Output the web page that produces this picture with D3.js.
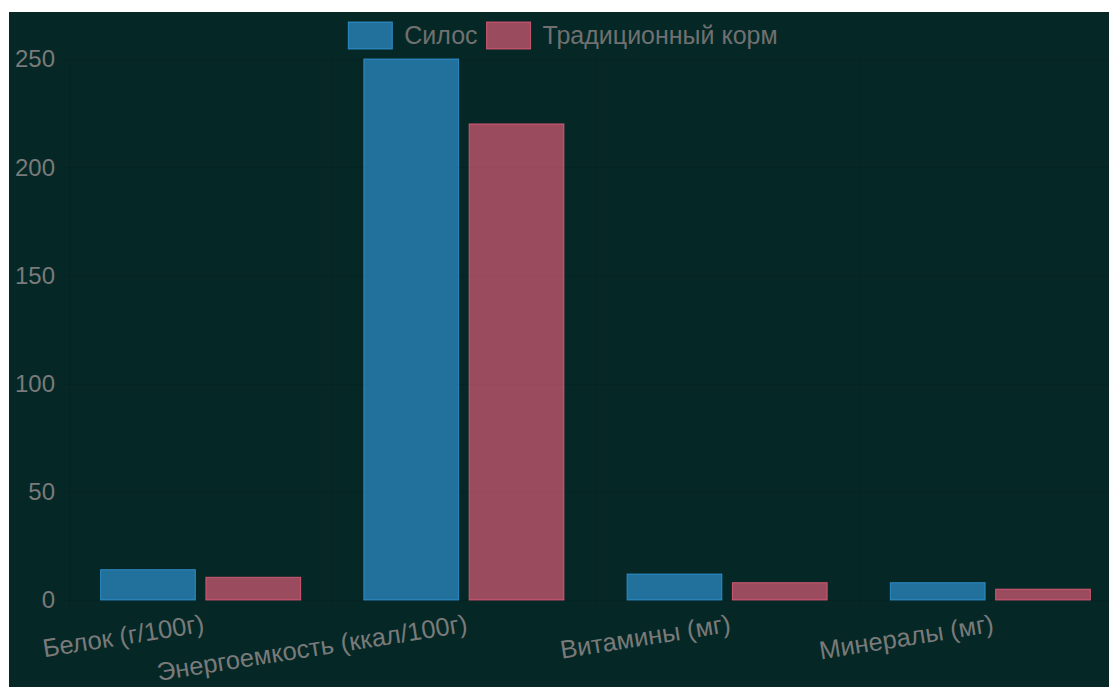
<!DOCTYPE html>
<html lang="ru">
<head>
  <meta charset="utf-8">
  <title>Силос и традиционный корм</title>
  <script src="https://d3js.org/d3.v7.min.js"></script>
  <style>
    html, body { margin: 0; padding: 0; background: #ffffff; }
    #chart text { font-family: "Liberation Sans", Arial, Helvetica, sans-serif; }
  </style>
</head>
<body>
  <div id="chart"></div>

  <script>
    "use strict"

    // dados
    var categorias = ["Белок (г/100г)", "Энергоемкость (ккал/100г)", "Витамины (мг)", "Минералы (мг)"];
    var series = ["Силос", "Традиционный корм"];
    var silos = [14, 250, 12, 8];
    var tradicional = [10.5, 220, 8, 5];
    var ticksY = [0, 50, 100, 150, 200, 250];

    var cores = {
      "Силос": { fill: "rgba(54,162,235,0.6)", stroke: "rgba(54,162,235,0.7)" },
      "Традиционный корм": { fill: "rgba(255,99,132,0.6)", stroke: "rgba(255,99,132,0.7)" }
    };

    var larguraSVG = 1109, alturaSVG = 687;
    var area = { left: 69, right: 1122, top: 59, bottom: 600 };

    var svg = d3.select("#chart").append("svg")
        .attr("width", larguraSVG)
        .attr("height", alturaSVG)
        .style("display", "block");

    // fundo escuro (a imagem tem uma borda branca a esquerda e em cima)
    svg.append("rect")
        .attr("x", 9).attr("y", 12)
        .attr("width", larguraSVG - 9).attr("height", alturaSVG - 12)
        .attr("fill", "#052826");

    var x0 = d3.scaleBand()
        .domain(categorias)
        .range([area.left, area.right]);

    var bw = x0.bandwidth();
    var x1 = d3.scaleBand()
        .domain(series)
        .range([0.1 * bw, 0.9 * bw])
        .paddingInner(0.1)
        .paddingOuter(0.05);

    var y = d3.scaleLinear()
        .domain([0, 250])
        .range([area.bottom, area.top]);

    // grade bem discreta
    var grade = svg.append("g").attr("stroke", "rgba(0,0,0,0.1)").attr("stroke-width", 1);
    grade.selectAll("line.h")
      .data(ticksY)
      .enter().append("line")
        .attr("class", "h")
        .attr("x1", area.left - 8).attr("x2", area.right)
        .attr("y1", d => Math.round(y(d)) + 0.5)
        .attr("y2", d => Math.round(y(d)) + 0.5);

    var bordas = categorias.map(c => x0(c)).concat([area.right]);
    grade.selectAll("line.v")
      .data(bordas)
      .enter().append("line")
        .attr("class", "v")
        .attr("x1", d => Math.round(d) + 0.5).attr("x2", d => Math.round(d) + 0.5)
        .attr("y1", area.top).attr("y2", area.bottom + 8);

    // barras
    var dados = categorias.map((c, i) => ({ cat: c, valores: [
      { serie: series[0], v: silos[i] },
      { serie: series[1], v: tradicional[i] }
    ]}));

    var grupos = svg.selectAll("g.grupo")
      .data(dados)
      .enter().append("g")
        .attr("class", "grupo")
        .attr("transform", d => "translate(" + x0(d.cat) + ",0)");

    grupos.selectAll("rect")
      .data(d => d.valores)
      .enter().append("rect")
        .attr("x", d => x1(d.serie))
        .attr("width", x1.bandwidth())
        .attr("y", d => y(d.v))
        .attr("height", d => y(0) - y(d.v))
        .attr("fill", d => cores[d.serie].fill)
        .attr("stroke", d => cores[d.serie].stroke)
        .attr("stroke-width", 1);

    // eixo Y (so os rotulos)
    svg.append("g")
      .selectAll("text")
      .data(ticksY)
      .enter().append("text")
        .attr("x", 55)
        .attr("y", d => y(d))
        .attr("dy", "0.35em")
        .attr("text-anchor", "end")
        .attr("fill", "#7a7a7a")
        .style("font-size", "24px")
        .text(d => d);

    // eixo X, rotulos inclinados
    svg.append("g")
      .selectAll("text")
      .data(categorias)
      .enter().append("text")
        .attr("transform", d => "translate(" + (x0(d) + bw / 2 + 3) + "," + 623 + ") rotate(-9)")
        .attr("dy", "0.35em")
        .attr("text-anchor", "end")
        .attr("fill", "#7a7a7a")
        .style("font-size", "25.5px")
        .text(d => d);

    // legenda centralizada no topo
    var legenda = svg.append("g");
    var itens = legenda.selectAll("g")
      .data(series)
      .enter().append("g");

    itens.append("rect")
        .attr("width", 44).attr("height", 27)
        .attr("y", 22)
        .attr("fill", d => cores[d].fill)
        .attr("stroke", d => cores[d].stroke)
        .attr("stroke-width", 1);

    itens.append("text")
        .attr("x", 56)
        .attr("y", 35.5)
        .attr("dy", "0.35em")
        .attr("fill", "#707070")
        .style("font-size", "25px")
        .text(d => d);

    var pos = 0;
    itens.each(function() {
      var larg = 56 + this.querySelector("text").getComputedTextLength();
      d3.select(this).attr("data-x", pos);
      pos += larg + 9;
    });
    var totalLegenda = pos - 9;
    var inicio = 563 - totalLegenda / 2;
    itens.attr("transform", function() {
      return "translate(" + (inicio + (+this.getAttribute("data-x"))) + ",0)";
    });
  </script>
</body>
</html>
